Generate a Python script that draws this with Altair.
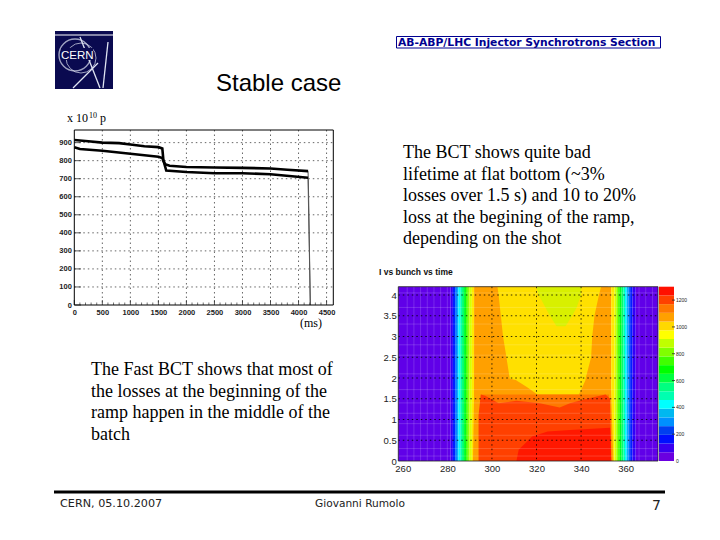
import altair as alt
import pandas as pd

# ---- left panel (BCT) ----
upper_t = [0, 250, 500, 800, 1000, 1250, 1500, 1570, 1590, 1620, 1700, 2000, 2500, 3000, 3500, 3800, 4170]
upper_v = [915, 908, 900, 897, 890, 880, 875, 868, 800, 780, 772, 765, 762, 760, 757, 750, 742]
lower_t = [0, 100, 500, 1000, 1500, 1570, 1600, 1640, 2000, 2500, 3000, 3500, 4170]
lower_v = [875, 865, 855, 838, 822, 815, 790, 745, 737, 730, 730, 725, 705]
drop_t = [4170, 4180, 4210]
drop_v = [742, 600, 0]
drop2_t = [4170, 4175, 4210]
drop2_v = [705, 600, 0]
bct_x_ticks = [0, 500, 1000, 1500, 2000, 2500, 3000, 3500, 4000, 4500]
bct_x_minor = [100, 200, 300, 400, 600, 700, 800, 900, 1100, 1200, 1300, 1400, 1600, 1700, 1800, 1900,
               2100, 2200, 2300, 2400, 2600, 2700, 2800, 2900, 3100, 3200, 3300, 3400, 3600, 3700, 3800, 3900,
               4100, 4200, 4300, 4400]
bct_y_ticks = [0, 100, 200, 300, 400, 500, 600, 700, 800, 900]

# ---- right panel (I vs bunch vs time) ----
strip_edges = [258, 281.5, 282.5, 283.5, 284.3, 285, 285.8, 286.6, 287.5, 288.4, 289.2, 290, 291, 292,
               353.5, 355, 355.8, 356.6, 357.4, 358.2, 359, 359.7, 360.4, 361.2, 362, 363, 364.5, 374.5]
strip_colors = ['#6000e8', '#3000f8', '#0020ff', '#0070ff', '#00b0ff', '#00ffff', '#00ffb0', '#00ff70', '#00ff20',
                '#40ff00', '#90ff00', '#d8ff00', '#ffe800', '#ffa000',
                '#ffe800', '#d8ff00', '#90ff00', '#40ff00', '#00ff20', '#00ff70', '#00ffb0', '#00ffff', '#00b0ff',
                '#0070ff', '#0020ff', '#3000f8', '#6000e8']
base_t = [0, 1.6, 4.2]
base_a = [291.5, 292, 292.5]
base_b = [354.5, 353.5, 352]
yellow_t = [1.6, 1.77, 1.95, 1.98, 2.5, 3, 3.5, 4, 4.2]
yellow_a = [320.4, 316, 310.7, 308, 306.5, 305, 304, 303, 302.5]
yellow_b = [339, 340.5, 342, 342, 344.5, 345, 346, 348, 349]
lime_t = [3.25, 3.5, 3.7, 4, 4.2]
lime_a = [329, 326, 324, 321, 320]
lime_b = [333, 336, 338, 340, 340]
dark_x = [295, 352.5]
dark_top = [1.6, 1.6]
red_x = [294, 295, 297, 303, 311, 321.5, 330.4, 335, 342.5, 351, 353, 353.6]
red_top = [1.1, 1.6, 1.57, 1.39, 1.45, 1.39, 1.29, 1.39, 1.5, 1.6, 1.5, 0]
deep_x = [311, 312, 318, 325, 335, 345, 353, 353.5]
deep_top = [0, 0.27, 0.59, 0.71, 0.75, 0.78, 0.8, 0]
heat_x_ticks = [260, 280, 300, 320, 340, 360]
heat_y_ticks = [0, 0.5, 1, 1.5, 2, 2.5, 3, 3.5, 4]
heat_grid_x = [300, 320, 340]
heat_grid_y = [0.5, 1, 1.5, 2, 2.5, 3, 3.5, 4]
lattice_x = [262, 265, 268, 271, 274, 277, 280, 366, 369, 372]
lattice_y = [0.12, 0.3, 0.62, 0.9, 1.15, 1.4, 1.72, 2.1, 2.55, 2.8, 3.3, 3.7, 4.05]
bar_levels = [0, 65, 130, 195, 260, 325, 390, 455, 520, 585, 650, 715, 780, 845, 910, 975, 1040, 1105, 1170, 1235]
bar_colors = ['#6a00e0', '#3a00f0', '#0010ff', '#0040f0', '#0090ff', '#00b8f0', '#00ffff', '#00ffb0', '#00ff80',
              '#00ff40', '#00ff00', '#40ff00', '#80ff00', '#c0ff00', '#ffff00', '#ffd800', '#ffa000', '#ff7800',
              '#ff4000', '#ff1000']
bar_ticks = [0, 200, 400, 600, 800, 1000, 1200]

# ---- text ----
right_par = ["The BCT shows quite bad", "lifetime at flat bottom (~3%", "losses over 1.5 s) and 10 to 20%",
             "loss at the begining of the ramp,", "depending on the shot"]
left_par = ["The Fast BCT shows that most of", "the losses at the beginning of the",
            "ramp happen in the middle of the", "batch"]

W, H = 704, 524
LX = alt.Scale(domain=[0, 4620], range=[66.3, 325.3], nice=False, zero=False)
LY = alt.Scale(domain=[0, 970], range=[297, 122], nice=False, zero=False)
HX = alt.Scale(domain=[258, 374.5], range=[390.3, 650], nice=False, zero=False)
HY = alt.Scale(domain=[0, 4.2], range=[453, 278.7], nice=False, zero=False)
BY = alt.Scale(domain=[0, 1300], range=[453, 278.7], nice=False, zero=False)
ONE = alt.Data(values=[{}])
layers = []


def txt(s, x, y, size, font="Liberation Serif", color="#000", weight="normal", align="left"):
    layers.append(alt.Chart(ONE).mark_text(text=s, font=font, fontSize=size, color=color, fontWeight=weight,
                                           align=align, baseline="alphabetic")
                  .encode(x=alt.value(x - 8), y=alt.value(y - 8)))


def seg(x1, y1, x2, y2, color="#000", w=1.0, **kw):
    layers.append(alt.Chart(ONE).mark_rule(color=color, strokeWidth=w, **kw)
                  .encode(x=alt.value(x1 - 8), x2=alt.value(x2 - 8), y=alt.value(y1 - 8), y2=alt.value(y2 - 8)))


X0 = lambda f, s: alt.X(f, type="quantitative", scale=s, axis=None)
Y0 = lambda f, s: alt.Y(f, type="quantitative", scale=s, axis=None)

# ---- logo ----
layers.append(alt.Chart(ONE).mark_rect(color="#0a0a50").encode(
    x=alt.value(55 - 8), x2=alt.value(113 - 8), y=alt.value(31 - 8), y2=alt.value(89 - 8)))
seg(55, 35, 113, 35, "#ffffff", 1)
for cx, cy, d, sw in [(75, 55, 32, 1.4), (81, 58, 30, 1.0)]:
    layers.append(alt.Chart(ONE).mark_point(shape="circle", filled=False, stroke="#dfe4f2", strokeWidth=sw, size=d * d)
                  .encode(x=alt.value(cx - 8), y=alt.value(cy - 8)))
seg(108, 42, 103, 88, "#dfe4f2", 1.3)
seg(80, 37, 100, 88, "#dfe4f2", 1.3)
seg(73, 88, 98, 63, "#dfe4f2", 1.3)
layers.append(alt.Chart(ONE).mark_rect(color="#0a0a50").encode(
    x=alt.value(61 - 8), x2=alt.value(93 - 8), y=alt.value(48 - 8), y2=alt.value(60 - 8)))
txt("CERN", 61, 59, 11.5, "Liberation Sans", "#ffffff")

# ---- header ----
layers.append(alt.Chart(ONE).mark_rect(fill="#ffffff", stroke="#000090", strokeWidth=1).encode(
    x=alt.value(396.5 - 8), x2=alt.value(660.5 - 8), y=alt.value(36.5 - 8), y2=alt.value(48 - 8)))
txt("AB-ABP/LHC Injector Synchrotrons Section", 398, 46, 10.75, "DejaVu Sans", "#000090", "bold")
txt("Stable case", 216, 91, 24, "Liberation Sans")

# ---- BCT panel ----
layers.append(alt.Chart(pd.DataFrame({"v": bct_y_ticks[1:]})).mark_rule(color="#666", strokeDash=[1.5, 3], strokeWidth=1)
              .encode(x=alt.value(66.3), x2=alt.value(325.3), y=Y0("v", LY)))
layers.append(alt.Chart(pd.DataFrame({"v": bct_x_ticks[1:]})).mark_rule(color="#666", strokeDash=[1.5, 3], strokeWidth=1)
              .encode(x=X0("v", LX), y=alt.value(122), y2=alt.value(297)))
# inward ticks
layers.append(alt.Chart(pd.DataFrame({"v": bct_x_ticks})).mark_rule(color="#333", strokeWidth=0.8)
              .encode(x=X0("v", LX), y=alt.value(297), y2=alt.value(292)))
layers.append(alt.Chart(pd.DataFrame({"v": bct_x_minor})).mark_rule(color="#333", strokeWidth=0.7)
              .encode(x=X0("v", LX), y=alt.value(297), y2=alt.value(294.5)))
layers.append(alt.Chart(pd.DataFrame({"v": bct_y_ticks})).mark_rule(color="#333", strokeWidth=0.8)
              .encode(y=Y0("v", LY), x=alt.value(66.3), x2=alt.value(73)))
layers.append(alt.Chart(pd.DataFrame({"t": drop_t, "v": drop_v})).mark_line(color="#555", strokeWidth=1)
              .encode(x=X0("t", LX), y=Y0("v", LY)))
layers.append(alt.Chart(pd.DataFrame({"t": drop2_t, "v": drop2_v})).mark_line(color="#555", strokeWidth=1)
              .encode(x=X0("t", LX), y=Y0("v", LY)))
for ts, vs in [(upper_t, upper_v), (lower_t, lower_v)]:
    layers.append(alt.Chart(pd.DataFrame({"t": ts, "v": vs})).mark_line(color="#000", strokeWidth=2.6)
                  .encode(x=X0("t", LX), y=Y0("v", LY)))
# frame and real axes
layers.append(alt.Chart(pd.DataFrame({"a": [0], "b": [4620], "c": [0], "d": [970]}))
              .mark_rect(fill=None, stroke="#000", strokeWidth=1)
              .encode(x=alt.X("a:Q", scale=LX, axis=alt.Axis(orient="bottom", offset=297 - H, values=bct_x_ticks, title=None,
                                                             grid=False, ticks=False, domain=False, labelFont="Liberation Sans",
                                                             labelFontWeight="bold", labelFontSize=7.5, labelPadding=3,
                                                             labelColor="#222", format="d", labelFlush=False)),
                      x2="b:Q",
                      y=alt.Y("c:Q", scale=LY, axis=alt.Axis(orient="left", offset=-66.3, values=bct_y_ticks, title=None,
                                                             grid=False, ticks=False, domain=False, labelFont="Liberation Sans",
                                                             labelFontWeight="bold", labelFontSize=7.5, labelPadding=3,
                                                             labelColor="#222", format="d", labelFlush=False)),
                      y2="d:Q"))

txt("x 10", 67, 122, 12)
txt("10", 89, 118, 8)
txt("p", 100, 122, 12)
txt("(ms)", 300, 327, 12)

# ---- heat panel ----
strips = pd.DataFrame({"a": strip_edges[:-1], "b": strip_edges[1:], "c": strip_colors, "lo": 0, "hi": 4.2})
layers.append(alt.Chart(strips).mark_rect().encode(
    x=X0("a", HX), x2="b:Q", y=Y0("lo", HY), y2="hi:Q", color=alt.Color("c:N", scale=None)))


def hband(ts, xa, xb, color):
    layers.append(alt.Chart(pd.DataFrame({"t": ts, "a": xa, "b": xb})).mark_area(orient="horizontal", color=color)
                  .encode(y=Y0("t", HY), x=X0("a", HX), x2="b:Q"))


def vband(xs, tops, color, low=0):
    layers.append(alt.Chart(pd.DataFrame({"x": xs, "t": tops, "l": low})).mark_area(orient="vertical", color=color)
                  .encode(x=X0("x", HX), y=Y0("t", HY), y2="l:Q"))


hband(base_t, base_a, base_b, "#ffa000")
hband(yellow_t, yellow_a, yellow_b, "#ffe000")
hband(lime_t, lime_a, lime_b, "#d8f000")
vband(dark_x, dark_top, "#ff7800", 0.5)
vband(red_x, red_top, "#ff4000")
vband(deep_x, deep_top, "#ff1800")

layers.append(alt.Chart(pd.DataFrame({"v": lattice_x})).mark_rule(color="#fff", opacity=0.16, strokeWidth=1)
              .encode(x=X0("v", HX), y=alt.value(278.7), y2=alt.value(453)))
layers.append(alt.Chart(pd.DataFrame({"v": lattice_y})).mark_rule(color="#fff", opacity=0.16, strokeWidth=1)
              .encode(y=Y0("v", HY), x=alt.value(390.3), x2=alt.value(650)))
layers.append(alt.Chart(pd.DataFrame({"v": heat_grid_y})).mark_rule(color="#000", strokeDash=[1.5, 3], strokeWidth=1, opacity=0.8)
              .encode(y=Y0("v", HY), x=alt.value(390.3), x2=alt.value(650)))
layers.append(alt.Chart(pd.DataFrame({"v": heat_grid_x})).mark_rule(color="#000", strokeDash=[1.5, 3], strokeWidth=1, opacity=0.8)
              .encode(x=X0("v", HX), y=alt.value(278.7), y2=alt.value(453)))
layers.append(alt.Chart(pd.DataFrame({"a": [258], "b": [374.5], "c": [0], "d": [4.2]}))
              .mark_rect(fill=None, stroke="#222", strokeWidth=0.8)
              .encode(x=alt.X("a:Q", scale=HX, axis=alt.Axis(orient="bottom", offset=453 - H, values=heat_x_ticks, title=None,
                                                             grid=False, ticks=False, domain=False, labelFont="Liberation Sans",
                                                             labelFontSize=9.5, labelPadding=2, labelColor="#222",
                                                             labelFlush=False)),
                      x2="b:Q",
                      y=alt.Y("c:Q", scale=HY, axis=alt.Axis(orient="left", offset=-390.3, values=heat_y_ticks, title=None,
                                                             grid=False, ticks=False, domain=False, labelFont="Liberation Sans",
                                                             labelFontSize=9.5, labelPadding=2, labelColor="#222",
                                                             labelExpr="'' + datum.value", labelFlush=False)),
                      y2="d:Q"))

bar = pd.DataFrame({"l": bar_levels, "h": [v + 65 for v in bar_levels], "c": bar_colors})
layers.append(alt.Chart(bar).mark_rect().encode(
    x=alt.value(659 - 8), x2=alt.value(674 - 8), y=Y0("l", BY), y2="h:Q", color=alt.Color("c:N", scale=None)))
layers.append(alt.Chart(pd.DataFrame({"v": bar_ticks[1:]})).mark_rule(color="#222", strokeWidth=0.8)
              .encode(x=alt.value(664), x2=alt.value(674 - 8 + 1), y=Y0("v", BY)))
layers.append(alt.Chart(pd.DataFrame({"v": bar_ticks})).mark_text(align="left", baseline="middle", font="Liberation Sans",
                                                                  fontSize=5, color="#222")
              .encode(x=alt.value(676 - 8), y=Y0("v", BY), text="v:Q"))

txt("I vs bunch vs time", 379, 275, 8.5, "Liberation Sans", "#111", "bold")

# ---- paragraphs ----
for s, y in zip(right_par, [158, 180, 201, 223, 244]):
    txt(s, 403, y, 18)
for s, y in zip(left_par, [375, 397, 418, 440]):
    txt(s, 91, y, 18)

# ---- footer ----
seg(54, 492, 665, 492, "#000", 3)
txt("CERN, 05.10.2007", 60, 507, 11.2, "DejaVu Sans", "#222")
txt("Giovanni Rumolo", 315, 507, 10.6, "DejaVu Sans", "#222")
txt("7", 652, 510, 14, "DejaVu Sans", "#222")

chart = alt.layer(*layers).resolve_scale(
    x="independent", y="independent", color="independent"
).resolve_axis(x="independent", y="independent").properties(
    width=W, height=H, padding=0, autosize=alt.AutoSizeParams(type="none"), background="#ffffff"
).configure_view(stroke=None)

chart.save("out.html", embed_options={"renderer": "svg", "actions": False})
